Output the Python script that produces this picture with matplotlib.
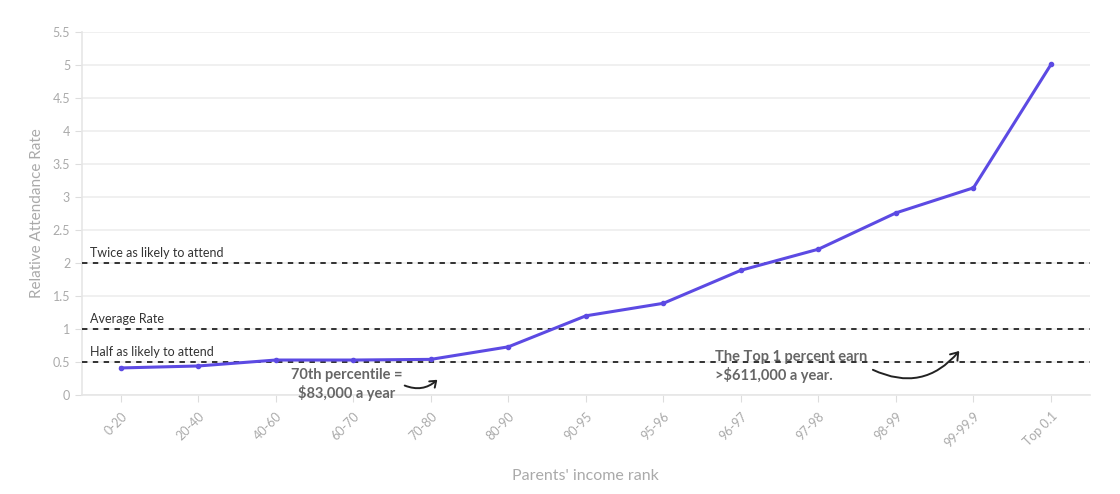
import matplotlib
matplotlib.use('Agg')
import matplotlib.pyplot as plt
from matplotlib.patches import FancyArrowPatch

plt.rcParams['font.family'] = ['Lato', 'DejaVu Sans']

# data
ranks = ['0-20', '20-40', '40-60', '60-70', '70-80', '80-90', '90-95', '95-96',
         '96-97', '97-98', '98-99', '99-99.9', 'Top 0.1']
rate = [0.41, 0.44, 0.53, 0.53, 0.54, 0.73, 1.20, 1.39, 1.89, 2.21, 2.76, 3.14, 5.01]
ref_levels = [2, 1, 0.5]
ref_labels = ['Twice as likely to attend', 'Average Rate', 'Half as likely to attend']

fig = plt.figure(figsize=(11.2, 4.94), dpi=100)
ax = fig.add_axes([0.0732, 0.2004, 0.8998, 0.7346])

xs = list(range(len(ranks)))
ax.plot(xs, rate, color='#5c4ae3', lw=2.2, marker='o', ms=3, zorder=4)

for lv, lb in zip(ref_levels, ref_labels):
    ax.axhline(lv, color='#222222', lw=1.3, ls=(0, (3, 3)), zorder=3)
    ax.text(-0.4, lv + 0.06, lb, fontsize=9, color='#333333', va='bottom', ha='left')

ax.set_xlim(-0.5, len(ranks) - 0.5)
ax.set_ylim(0, 5.5)
ax.set_yticks([i * 0.5 for i in range(12)])
ax.set_yticklabels(['0', '0.5', '1', '1.5', '2', '2.5', '3', '3.5', '4', '4.5', '5', '5.5'])
ax.set_xticks(xs)
ax.set_xticklabels(ranks, rotation=45, ha='right', rotation_mode='anchor')
ax.tick_params(axis='both', colors='#dddddd', labelcolor='#aaaaaa', labelsize=9, length=5)
ax.tick_params(axis='x', pad=6)
ax.grid(True, axis='y', color='#eeeeee', lw=1.2, zorder=0)
for s in ['top', 'right']:
    ax.spines[s].set_visible(False)
for s in ['left', 'bottom']:
    ax.spines[s].set_color('#e6e6e6')
    ax.spines[s].set_linewidth(1.2)

ax.set_ylabel('Relative Attendance Rate', fontsize=11, color='#aaaaaa', labelpad=6)
ax.set_xlabel("Parents' income rank", fontsize=11.5, color='#aaaaaa', labelpad=14)

ax.text(2.91, 0.16, '70th percentile =\n$83,000 a year', fontsize=10.5, fontweight='bold',
        color='#666666', ha='center', va='center', linespacing=1.25, zorder=5)
ax.text(7.67, 0.43, 'The Top 1 percent earn\n>$611,000 a year.', fontsize=10.5, fontweight='bold',
        color='#666666', ha='left', va='center', linespacing=1.25, zorder=5)

a1 = FancyArrowPatch((3.63, 0.16), (4.11, 0.26), connectionstyle='arc3,rad=0.35',
                     arrowstyle='->,head_length=4,head_width=3', color='#222222', lw=1.4, zorder=5)
a2 = FancyArrowPatch((9.67, 0.40), (10.84, 0.70), connectionstyle='arc3,rad=0.4',
                     arrowstyle='->,head_length=5,head_width=3.5', color='#222222', lw=1.4, zorder=5)
ax.add_patch(a1)
ax.add_patch(a2)

fig.savefig('out.png')
